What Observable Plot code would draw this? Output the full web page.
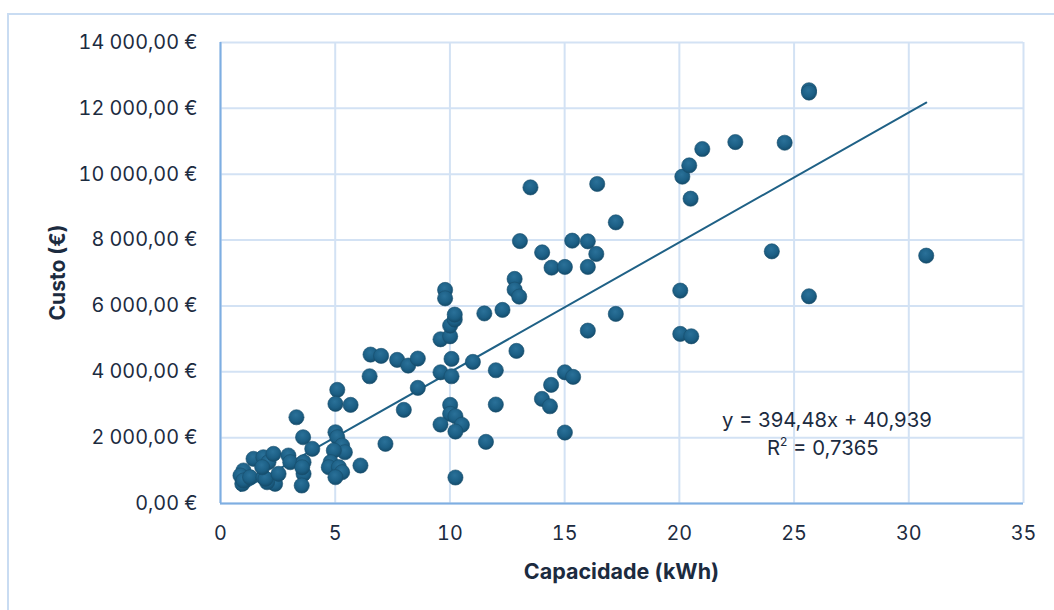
<!DOCTYPE html>
<html>
<head>
<meta charset="utf-8">
<script src="https://cdn.jsdelivr.net/npm/d3@7"></script>
<script src="https://cdn.jsdelivr.net/npm/@observablehq/plot@0.6"></script>
<style>
  html, body { margin: 0; padding: 0; background: #fff; }
  #wrap { position: relative; width: 1054px; height: 610px; overflow: hidden; }
  #frame { position: absolute; left: 7px; top: 13px; width: 1100px; height: 700px;
           border-left: 2px solid #c9dcf2; border-top: 2px solid #c9dcf2; pointer-events: none; }
</style>
</head>
<body>
<div id="wrap"><div id="frame"></div></div>
<script>
// Capacidade (kWh) and Custo (€)
const capacidade = [
  1.0, 0.87, 0.95, 1.0, 1.29, 1.44, 1.87, 1.87, 2.09, 2.31, 2.38, 2.03, 1.96, 2.53, 2.96, 3.04,
  3.62, 3.6, 3.31, 3.62, 3.54, 3.56, 4.0, 1.82,
  5.01, 5.09, 5.3, 5.42, 4.94, 4.8, 4.72, 5.16, 5.3, 5.01, 6.1,
  5.09, 5.01, 5.67, 6.5, 7.99, 7.19, 8.6,
  6.54, 7.0, 7.7, 8.18, 8.6, 9.59, 10.01, 10.01, 10.21, 10.21, 9.79, 9.79, 10.07, 9.59, 10.07,
  11.0, 12.0, 11.5, 12.29, 12.9, 12.82, 12.82, 13.02, 13.05, 13.51, 14.02, 14.43, 15.01, 15.33,
  16.01, 16.01, 16.38, 16.42, 17.23, 17.23, 16.01, 15.01, 15.37, 14.41, 14.01, 14.36, 12.0,
  10.01, 10.01, 10.24, 10.52, 9.59, 10.24, 11.57, 15.01, 10.24,
  20.04, 20.04, 20.52, 20.13, 20.43, 20.49, 21.0, 22.44, 24.59, 24.03, 25.65, 25.65, 25.65, 30.76
];
const custo = [
  1002, 850, 598, 698, 798, 1356, 1405, 798, 1254, 1508, 598, 646, 750, 901, 1457, 1254,
  1254, 2012, 2619, 901, 546, 1100, 1660, 1102,
  2164, 2012, 1760, 1557, 1609, 1254, 1102, 1102, 950, 798, 1153,
  3451, 3026, 2995, 3864, 2844, 1812, 3511,
  4522, 4482, 4361, 4188, 4401, 4987, 5078, 5402, 5585, 5736, 6485, 6231, 4391, 3985, 3864,
  4300, 4046, 5772, 5879, 4634, 6820, 6495, 6282, 7970, 9600, 7627, 7163, 7183, 7982,
  7961, 7183, 7578, 9703, 8538, 5757, 5250, 3985, 3845, 3602, 3177, 2953, 3005,
  2995, 2722, 2650, 2388, 2398, 2185, 1872, 2155, 789,
  6465, 5150, 5078, 9925, 10268, 9257, 10765, 10977, 10956, 7658, 12550, 12480, 6293, 7527
];
const xTicks = [0, 5, 10, 15, 20, 25, 30, 35];
const yTicks = [0, 2000, 4000, 6000, 8000, 10000, 12000, 14000];
const trendSlope = 394.48;
const trendIntercept = 40.939;
const equationText = "y = 394,48x + 40,939";
const r2Text = "= 0,7365";
const xTitle = "Capacidade (kWh)";
const yTitle = "Custo (€)";

const points = capacidade.map((x, i) => ({x, y: custo[i]}));
const [xMin, xMax] = d3.extent(capacidade);
const trend = [xMin, xMax].map(x => ({x, y: trendSlope * x + trendIntercept}));

const euro = d3.formatLocale({decimal: ",", thousands: " ", grouping: [3], currency: ["", " €"]}).format("$,.2f");

const FONT = "Inter, 'Noto Sans', sans-serif";
const TXT = "#1c2b3f";

const chart = Plot.plot({
  width: 1054, height: 610,
  marginLeft: 220, marginRight: 31, marginTop: 42, marginBottom: 107,
  x: {domain: [0, 35]},
  y: {domain: [0, 14000]},
  style: {fontFamily: FONT, fontSize: "19.8px", color: TXT, background: "transparent", overflow: "visible"},
  marks: [
    Plot.gridX(xTicks, {stroke: "#d3e2f4", strokeOpacity: 1, strokeWidth: 2}),
    Plot.gridY(yTicks, {stroke: "#d3e2f4", strokeOpacity: 1, strokeWidth: 2}),
    Plot.ruleX([0], {stroke: "#7eaee2", strokeWidth: 2}),
    Plot.ruleY([0], {stroke: "#7eaee2", strokeWidth: 2}),
    Plot.axisX(xTicks, {tickSize: 0, tickPadding: 22, label: null, fill: TXT}),
    Plot.axisY(yTicks, {tickSize: 0, tickPadding: 23, tickFormat: euro, label: null, fill: TXT}),
    Plot.line(trend, {x: "x", y: "y", stroke: "#1f6186", strokeWidth: 2}),
    Plot.dot(points, {x: "x", y: "y", r: 7.6, fill: "url(#dotGrad)", stroke: "#174d6b", strokeWidth: 0.6})
  ]
});

const svg = d3.select(chart);
const defs = svg.insert("defs", ":first-child");
const g = defs.append("radialGradient").attr("id", "dotGrad")
  .attr("cx", "45%").attr("cy", "35%").attr("r", "70%");
g.append("stop").attr("offset", "0%").attr("stop-color", "#2a7199");
g.append("stop").attr("offset", "60%").attr("stop-color", "#1c5f85");
g.append("stop").attr("offset", "100%").attr("stop-color", "#124866");

const sx = chart.scale("x"), sy = chart.scale("y");

// axis titles
svg.append("text")
  .attr("x", (sx.apply(0) + sx.apply(35)) / 2).attr("y", 579)
  .attr("text-anchor", "middle").attr("font-family", FONT).attr("font-size", 21.5)
  .attr("font-weight", 700).attr("fill", TXT).text(xTitle);
svg.append("text")
  .attr("transform", `translate(65,${(sy.apply(0) + sy.apply(14000)) / 2}) rotate(-90)`)
  .attr("text-anchor", "middle").attr("font-family", FONT).attr("font-size", 21)
  .attr("font-weight", 700).attr("fill", TXT).text(yTitle);

// trendline equation
const eqX = sx.apply(26.45);
svg.append("text").attr("x", eqX).attr("y", 427)
  .attr("text-anchor", "middle").attr("font-family", FONT).attr("font-size", 20.3)
  .attr("fill", TXT).text(equationText);
const r2 = svg.append("text").attr("x", eqX - 4).attr("y", 455)
  .attr("text-anchor", "middle").attr("font-family", FONT).attr("font-size", 20.3).attr("fill", TXT);
r2.append("tspan").text("R");
r2.append("tspan").attr("font-size", 12).attr("dy", -9).text("2");
r2.append("tspan").attr("dy", 9).text(" " + r2Text);

document.getElementById("wrap").prepend(chart);
chart.style.position = "absolute";
chart.style.left = "0px";
chart.style.top = "0px";
</script>
</body>
</html>
